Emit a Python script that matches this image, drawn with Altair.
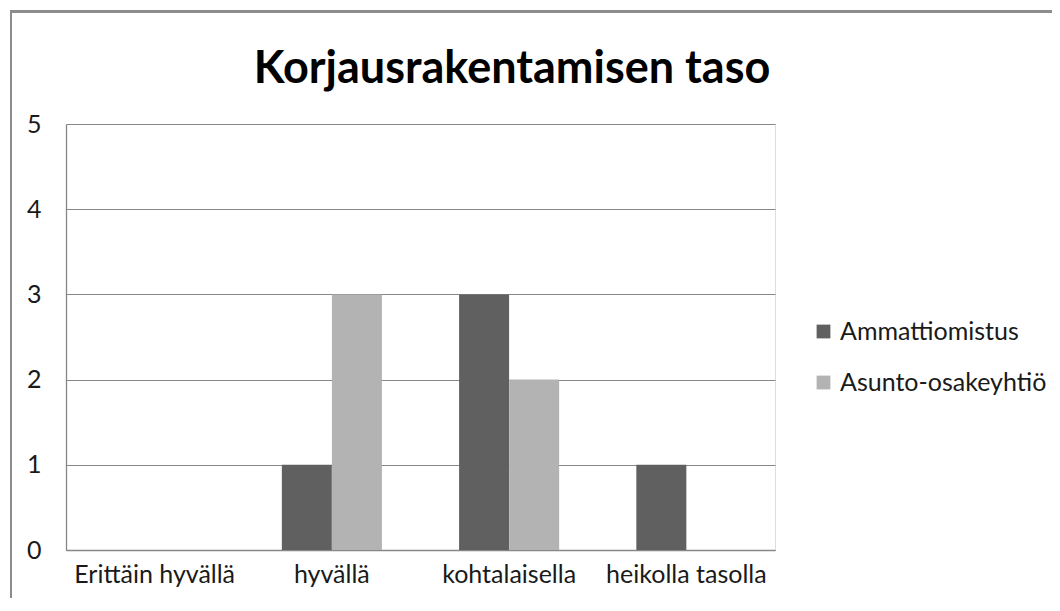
import altair as alt
import pandas as pd

title_text = "Korjausrakentamisen taso"
categories = ["Erittäin hyvällä", "hyvällä", "kohtalaisella", "heikolla tasolla"]
series = ["Ammattiomistus", "Asunto-osakeyhtiö"]
ammattiomistus = [0, 1, 3, 1]
asunto_oy = [0, 3, 2, 0]

rows = []
for c, a, b in zip(categories, ammattiomistus, asunto_oy):
    rows.append({"kategoria": c, "sarja": series[0], "arvo": a})
    rows.append({"kategoria": c, "sarja": series[1], "arvo": b})
df = pd.DataFrame(rows)

FONT = "Lato"
GRID = "#878787"
TXT = "#1a1a1a"

bars = alt.Chart(df).mark_bar(size=50).encode(
    x=alt.X("kategoria:N", sort=categories, title=None,
            scale=alt.Scale(paddingInner=0.435, paddingOuter=0.2175),
            axis=alt.Axis(labelAngle=0, ticks=False, domainColor=GRID, domainWidth=1.3,
                          labelFontSize=25, labelFont=FONT, labelColor=TXT,
                          labelPadding=12, grid=False, labelLimit=300)),
    xOffset=alt.XOffset("sarja:N", sort=series, scale=alt.Scale(paddingInner=0, paddingOuter=0)),
    y=alt.Y("arvo:Q", title=None,
            scale=alt.Scale(domain=[0, 5], nice=False),
            axis=alt.Axis(values=[0, 1, 2, 3, 4, 5], ticks=False, domainColor=GRID, domainWidth=1.3,
                          gridColor=GRID, gridWidth=1.2, labelFontSize=25, labelFont=FONT,
                          labelColor=TXT, labelPadding=25)),
    color=alt.Color("sarja:N", sort=series,
                    scale=alt.Scale(domain=series, range=["#606060", "#b3b3b3"]),
                    legend=alt.Legend(title=None, orient="none", legendX=745, legendY=195,
                                      symbolType="square", symbolSize=190, symbolStrokeWidth=0,
                                      labelFontSize=25, labelFont=FONT, labelColor=TXT,
                                      rowPadding=25, labelOffset=4, labelLimit=400)),
)

frame = alt.Chart(df).mark_rect(fill=None, stroke="#8c8c8c", strokeWidth=2).encode(
    x=alt.value(-55), x2=alt.value(1000), y=alt.value(-112.5), y2=alt.value(600)
)

title = alt.Chart(pd.DataFrame({"t": [title_text]})).mark_text(
    font=FONT, fontSize=45, fontWeight="bold", color="#000000",
    align="center", baseline="alphabetic"
).encode(text="t:N", x=alt.value(446), y=alt.value(-41))

chart = alt.layer(frame, bars, title).properties(
    width=709, height=426,
    padding={"left": 58, "top": 116, "right": 277, "bottom": 48},
    autosize=alt.AutoSizeParams(type="none"),
).configure_view(strokeWidth=0).configure(background="white")

chart.save("out.html", embed_options={"renderer": "svg", "actions": False})
